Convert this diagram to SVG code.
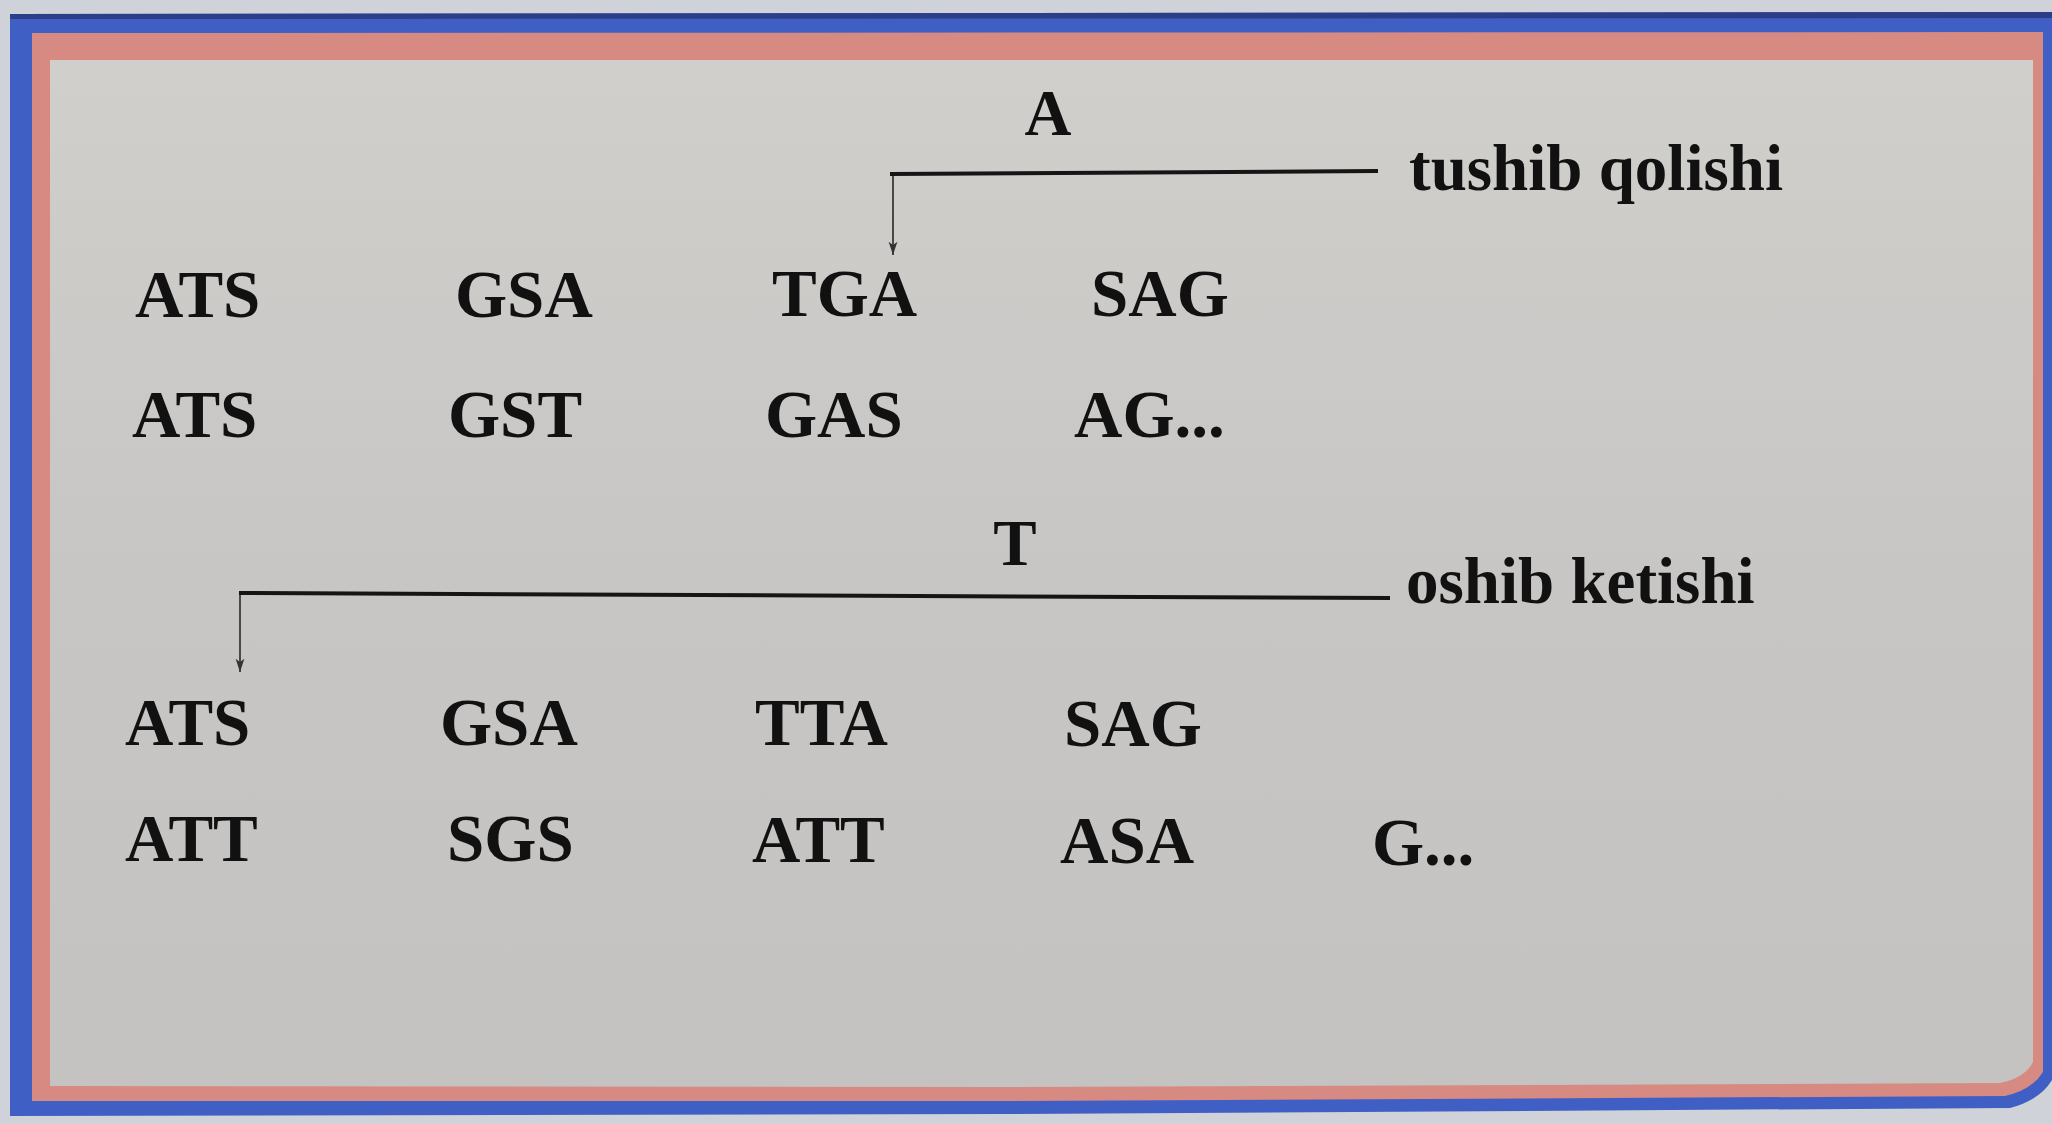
<svg xmlns="http://www.w3.org/2000/svg" width="2052" height="1124" viewBox="0 0 2052 1124">
  <defs>
    <linearGradient id="paper" x1="0" y1="0" x2="0" y2="1">
      <stop offset="0" stop-color="#d1cfcc"/>
      <stop offset="0.5" stop-color="#c8c6c4"/>
      <stop offset="1" stop-color="#c5c3c1"/>
    </linearGradient>
    <marker id="arr" viewBox="0 0 12 10" refX="12" refY="5" markerWidth="16" markerHeight="11" markerUnits="userSpaceOnUse" orient="auto">
      <path d="M0,1 L12,5 L0,9 L3,5 Z" fill="#333"/>
    </marker>
  </defs>
  <style>
    .seq { font-family: "Liberation Serif", "Times New Roman", serif; font-weight: bold; font-size: 67px; fill: #111; }
    .lbl { font-family: "Liberation Serif", "Times New Roman", serif; font-weight: bold; font-size: 65px; fill: #111; }
    .bar { stroke: #151515; stroke-width: 4; fill: none; }
    .ptr { stroke: #3a3a3a; stroke-width: 1.8; fill: none; }
  </style>

  <!-- photo background and frame -->
  <rect x="0" y="0" width="2052" height="1124" fill="#cfd2d8"/>
  <path d="M10,14 L2052,12 L2052,1080 Q2040,1100 2010,1108 L1000,1114 L10,1116 Z" fill="#3f5fc4"/>
  <path d="M10,14 L2052,12 L2052,18 L10,19 Z" fill="#2c3f86"/>
  <path d="M32,33 L2043,32 L2043,1072 Q2032,1090 2005,1096 L1000,1101 L32,1101 Z" fill="#d68a82"/>
  <path d="M50,60 L2033,60 L2033,1062 Q2025,1078 2000,1083 L1000,1087 L50,1086 Z" fill="url(#paper)"/>

  <g id="connectors">
    <path class="bar" d="M890,174 L1378,171"/>
    <path class="ptr" d="M893,176 L893,255" marker-end="url(#arr)"/>
    <path class="bar" d="M239,593 L1390,598"/>
    <path class="ptr" d="M240,595 L240,672" marker-end="url(#arr)"/>
  </g>

  <g id="deletion-label">
    <text class="lbl" x="1048" y="135" text-anchor="middle">A</text>
    <text class="lbl" x="1409" y="190">tushib qolishi</text>
  </g>
  <g id="insertion-label">
    <text class="lbl" x="1015" y="565" text-anchor="middle">T</text>
    <text class="lbl" x="1406" y="603">oshib ketishi</text>
  </g>

  <g id="row1">
    <text class="seq" x="135" y="317">ATS</text>
    <text class="seq" x="455" y="317">GSA</text>
    <text class="seq" x="772" y="316">TGA</text>
    <text class="seq" x="1091" y="316">SAG</text>
  </g>
  <g id="row2">
    <text class="seq" x="132" y="437">ATS</text>
    <text class="seq" x="448" y="437">GST</text>
    <text class="seq" x="765" y="437">GAS</text>
    <text class="seq" x="1074" y="437">AG...</text>
  </g>
  <g id="row3">
    <text class="seq" x="125" y="745">ATS</text>
    <text class="seq" x="440" y="745">GSA</text>
    <text class="seq" x="755" y="745">TTA</text>
    <text class="seq" x="1064" y="746">SAG</text>
  </g>
  <g id="row4">
    <text class="seq" x="125" y="861">ATT</text>
    <text class="seq" x="447" y="861">SGS</text>
    <text class="seq" x="752" y="862">ATT</text>
    <text class="seq" x="1060" y="863">ASA</text>
    <text class="seq" x="1372" y="865">G...</text>
  </g>
</svg>
